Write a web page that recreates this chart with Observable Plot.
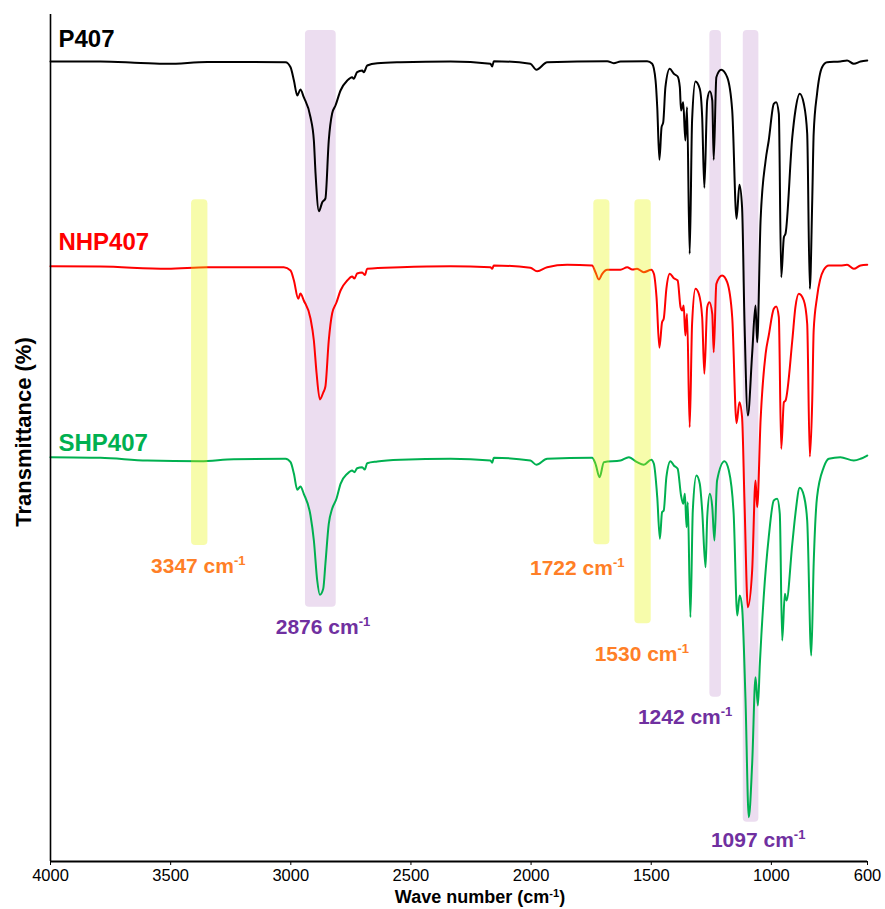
<!DOCTYPE html>
<html>
<head>
<meta charset="utf-8">
<script src="https://cdn.jsdelivr.net/npm/d3@7"></script>
<script src="https://cdn.jsdelivr.net/npm/@observablehq/plot@0.6"></script>
<style>
  html, body { margin: 0; padding: 0; background: white; }
</style>
</head>
<body>
<div id="chart"></div>
<script>
// ---- Data: [wave number (cm-1), offset transmittance] ----
const p407 = [[4000,80.0],[3792,80.0],[3625,79.85],[3513,79.77],[3347,79.95],[3022,79.93],[3001,79.43],[2987,78.1],[2973,76.6],[2960,77.2],[2946,76.43],[2918,74.43],[2904,72.1],[2897,68.8],[2883,65.03],[2869,65.93],[2856,66.3],[2842,72.1],[2828,74.8],[2814,75.6],[2793,77.1],[2765,78.1],[2745,78.43],[2738,78.27],[2724,78.93],[2703,79.1],[2696,78.93],[2682,79.6],[2640,79.83],[2543,79.93],[2335,80.0],[2169,79.77],[2162,79.5],[2155,80.03],[2003,79.77],[1978,79.17],[1933,79.93],[1683,80.03],[1656,79.83],[1628,80.0],[1517,80.03],[1496,79.77],[1482,78.1],[1475,75.43],[1466,70.17],[1457,73.43],[1450,73.93],[1441,77.43],[1423,79.27],[1406,78.77],[1390,78.5],[1381,77.43],[1376,75.1],[1367,75.93],[1358,72.1],[1351,75.43],[1340,60.77],[1330,74.1],[1316,78.0],[1298,77.27],[1288,74.43],[1279,67.37],[1267,76.1],[1256,77.03],[1246,76.1],[1240,70.17],[1229,78.43],[1209,79.17],[1184,78.43],[1163,75.1],[1145,64.27],[1133,67.67],[1122,65.43],[1112,54.1],[1098,44.6],[1080,50.77],[1066,55.6],[1059,51.93],[1045,64.1],[1024,70.1],[1011,72.1],[990,75.77],[980,75.93],[969,74.77],[959,58.43],[948,62.43],[941,62.8],[913,72.43],[900,75.1],[882,76.77],[865,75.77],[851,72.8],[840,57.27],[830,66.1],[824,72.8],[810,76.77],[789,79.43],[768,79.93],[713,80.0],[685,80.1],[657,79.77],[629,80.0],[601,80.1]];

const nhp407 = [[4000,59.53],[3792,59.5],[3514,59.27],[3348,59.43],[3029,59.43],[3001,59.1],[2987,58.1],[2969,56.27],[2960,56.8],[2946,56.1],[2918,54.3],[2904,52.1],[2893,48.9],[2879,46.2],[2865,46.9],[2856,47.5],[2842,52.1],[2828,54.8],[2810,55.9],[2793,57.1],[2765,58.1],[2745,58.5],[2735,58.3],[2724,58.8],[2703,58.9],[2692,58.65],[2682,59.27],[2543,59.43],[2335,59.53],[2169,59.43],[2162,59.27],[2155,59.6],[2003,59.37],[1975,59.03],[1933,59.43],[1850,59.67],[1746,59.6],[1732,58.93],[1718,58.2],[1704,58.77],[1683,59.17],[1628,59.17],[1600,59.43],[1579,59.2],[1559,59.27],[1531,58.93],[1500,59.17],[1489,58.77],[1478,56.43],[1466,51.37],[1455,53.93],[1448,54.27],[1437,57.27],[1423,58.77],[1406,58.33],[1390,58.1],[1378,55.43],[1371,55.1],[1365,55.6],[1358,52.6],[1351,54.77],[1340,43.43],[1330,53.77],[1316,57.27],[1302,56.77],[1288,54.43],[1279,48.77],[1267,55.43],[1258,55.93],[1246,54.77],[1240,50.93],[1229,57.77],[1205,58.6],[1184,57.93],[1163,54.43],[1145,43.83],[1133,45.93],[1122,44.43],[1112,36.1],[1098,25.43],[1080,29.1],[1066,38.1],[1059,35.43],[1045,44.1],[1024,50.77],[1011,52.6],[990,55.27],[980,55.5],[969,54.43],[959,41.27],[948,45.93],[941,46.1],[913,52.1],[900,55.43],[886,56.77],[865,56.1],[851,53.77],[840,40.5],[830,46.1],[824,53.1],[810,56.43],[782,59.17],[761,59.6],[713,59.6],[685,59.67],[657,59.27],[629,59.6],[601,59.67]];

const shp407 = [[4000,40.43],[3792,40.37],[3598,40.1],[3376,40.03],[3237,40.23],[3022,40.27],[3001,39.93],[2987,38.77],[2973,37.17],[2960,37.5],[2946,36.77],[2918,34.6],[2904,32.1],[2890,28.1],[2879,26.67],[2865,27.27],[2856,29.77],[2842,33.77],[2828,35.27],[2810,36.27],[2793,37.77],[2765,38.77],[2745,39.1],[2735,38.93],[2724,39.33],[2703,39.43],[2692,39.2],[2682,39.83],[2640,40.0],[2543,40.17],[2335,40.27],[2169,40.1],[2162,39.87],[2155,40.37],[2003,40.1],[1978,39.67],[1933,40.27],[1746,40.37],[1732,39.77],[1715,38.43],[1697,39.93],[1628,40.1],[1593,40.43],[1559,39.93],[1531,39.67],[1500,40.17],[1489,39.77],[1475,36.43],[1464,32.27],[1455,34.93],[1448,35.1],[1437,38.43],[1420,40.03],[1406,39.6],[1390,39.27],[1376,36.6],[1367,35.77],[1360,36.77],[1353,33.43],[1348,35.93],[1337,24.43],[1327,35.1],[1312,38.6],[1298,37.77],[1288,35.1],[1274,29.43],[1267,34.43],[1256,36.77],[1246,35.43],[1237,32.1],[1226,38.1],[1195,40.03],[1177,39.1],[1157,34.77],[1142,24.6],[1132,26.6],[1122,25.43],[1108,16.43],[1094,4.43],[1080,9.77],[1066,18.43],[1056,15.6],[1048,19.77],[1032,26.43],[1011,32.43],[990,36.1],[976,36.27],[965,34.77],[955,22.1],[944,26.77],[937,26.1],[913,31.77],[900,34.77],[882,37.37],[865,36.6],[851,34.1],[834,20.6],[824,29.77],[810,36.43],[782,39.43],[761,40.27],[713,40.43],[657,40.1],[629,40.27],[601,40.6]];

const seriesNames  = ["P407", "NHP407", "SHP407"];
const seriesColors = ["#000000", "#ff0000", "#00b050"];
const seriesLabelWn = [3967, 3967, 3967];
const seriesLabelT  = [81.43, 61.17, 41.1];

// highlighted bands: [from, to] wave number, [bottom, top] in transmittance units
const purpleBandLo  = [2811, 1208, 1052];
const purpleBandHi  = [2939, 1256, 1117];
const purpleBandBot = [25.43, 16.43, 3.93];
const purpleBandTop = [83.1, 83.1, 83.1];

const yellowBandLo  = [3345, 1672, 1500];
const yellowBandHi  = [3413, 1739, 1568];
const yellowBandBot = [31.6, 31.67, 23.77];
const yellowBandTop = [66.17, 66.17, 66.17];

const annText  = ["3347 cm-1", "2876 cm-1", "1722 cm-1", "1530 cm-1", "1242 cm-1", "1097 cm-1"];
const annKind  = ["orange", "purple", "orange", "orange", "purple", "purple"];
const annWn    = [3385, 2866, 1808, 1539, 1359, 1055];
const annT     = [28.83, 22.77, 28.7, 20.03, 13.77, 1.5];

const xTicks = [4000, 3500, 3000, 2500, 2000, 1500, 1000, 600];
const xTitle = "Wave number (cm-1)";
const yTitle = "Transmittance (%)";

// ---- build ----
const series = [p407, nhp407, shp407];
const rows = (arr) => arr.map(([wn, t]) => ({wn, t}));
const band = (lo, hi, bot, top) => lo.map((d, i) => ({x1: lo[i], x2: hi[i], y1: bot[i], y2: top[i]}));
const purpleBands = band(purpleBandLo, purpleBandHi, purpleBandBot, purpleBandTop);
const yellowBands = band(yellowBandLo, yellowBandHi, yellowBandBot, yellowBandTop);
const ann = annText.map((t, i) => ({text: t, wn: annWn[i], t: annT[i], kind: annKind[i]}));
const annColor = {orange: "#ff7f27", purple: "#7030a0"};

const font = "'Liberation Sans', Arial, Helvetica, sans-serif";

const chart = Plot.plot({
  width: 885,
  height: 909,
  marginLeft: 50,
  marginRight: 18,
  marginTop: 14,
  marginBottom: 48,
  style: {fontFamily: font, background: "white", overflow: "visible"},
  x: {domain: [4000, 600], axis: null},
  y: {domain: [0, 84.7], axis: null},
  marks: [
    Plot.rect(purpleBands, {x1: "x1", x2: "x2", y1: "y1", y2: "y2", fill: "#ecddf0", rx: 4}),
    ...series.map((s, i) => Plot.line(rows(s), {x: "wn", y: "t", stroke: seriesColors[i], strokeWidth: 2, curve: "monotone-x"})),
    Plot.rect(yellowBands, {x1: "x1", x2: "x2", y1: "y1", y2: "y2", fill: "#e6f500", fillOpacity: 0.33, rx: 4}),
    ...seriesNames.map((n, i) => Plot.text([n], {x: seriesLabelWn[i], y: seriesLabelT[i], text: d => d, fill: seriesColors[i], textAnchor: "start", lineAnchor: "bottom", fontSize: 24, fontWeight: "bold"})),
    ...["orange", "purple"].map(k => Plot.text(ann.filter(d => d.kind === k), {x: "wn", y: "t", text: "text", fill: annColor[k], textAnchor: "middle", lineAnchor: "bottom", fontSize: 21, fontWeight: "bold"})),
    Plot.ruleX([4000], {stroke: "black", strokeWidth: 1.6}),
    Plot.ruleY([0], {stroke: "black", strokeWidth: 1.8}),
    Plot.axisX(xTicks, {anchor: "bottom", tickSize: 4, tickPadding: 4, fontSize: 16.5, tickFormat: d => String(d), label: null, stroke: "black", fill: "black"}),
    Plot.text([xTitle], {frameAnchor: "bottom", dx: 21, dy: 36, text: d => d, fontSize: 18, fontWeight: "bold", textAnchor: "middle", lineAnchor: "middle"}),
    Plot.text([yTitle], {frameAnchor: "left", rotate: -90, dx: -27, dy: -6, text: d => d, fontSize: 22, fontWeight: "bold", textAnchor: "middle", lineAnchor: "middle"})
  ]
});

// superscript "-1" in "cm-1"
const NS = "http://www.w3.org/2000/svg";
chart.querySelectorAll("text").forEach(t => {
  if (t.children.length) return;
  const s = t.textContent;
  const i = s.indexOf("cm-1");
  if (i < 0) return;
  const before = s.slice(0, i + 2), after = s.slice(i + 4);
  t.textContent = "";
  const a = document.createElementNS(NS, "tspan"); a.textContent = before; t.appendChild(a);
  const b = document.createElementNS(NS, "tspan"); b.textContent = "-1";
  b.setAttribute("font-size", "0.62em"); b.setAttribute("dy", "-0.6em"); t.appendChild(b);
  if (after) {
    const c = document.createElementNS(NS, "tspan"); c.textContent = after;
    c.setAttribute("dy", "0.372em"); t.appendChild(c);
  }
});

document.getElementById("chart").appendChild(chart);
</script>
</body>
</html>
